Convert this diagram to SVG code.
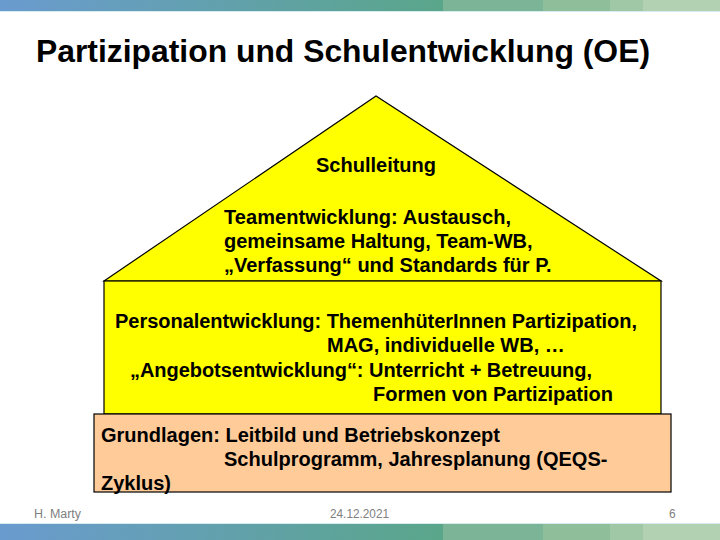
<svg xmlns="http://www.w3.org/2000/svg" width="720" height="540" viewBox="0 0 720 540">
<defs>
<linearGradient id="bar" x1="0" y1="0" x2="443" y2="0" gradientUnits="userSpaceOnUse">
<stop offset="0" stop-color="#6a9bcf"/>
<stop offset="1" stop-color="#5aa68a"/>
</linearGradient>
<style>
.t{font-family:"Liberation Sans",Arial,sans-serif;font-weight:bold;font-size:20px;fill:#000}
.f{font-family:"Liberation Sans",Arial,sans-serif;font-size:12px;fill:#808080}
.shape{stroke:#000;stroke-width:1.2}
</style>
</defs>
<rect width="720" height="540" fill="#fff"/>
<g id="topbar">
<rect x="0" y="0" width="443" height="11" fill="url(#bar)"/>
<rect x="443" y="0" width="100" height="11" fill="#7bb497"/>
<rect x="543" y="0" width="67" height="11" fill="#8fbe9a"/>
<rect x="610" y="0" width="33" height="11" fill="#a1c8a6"/>
<rect x="643" y="0" width="77" height="11" fill="#b2d0b2"/>
<rect x="0" y="11" width="720" height="1" fill="#d4ecf0"/>
</g>
<g id="bottombar">
<rect x="0" y="523" width="720" height="1" fill="#d4ecf0"/>
<rect x="0" y="524" width="443" height="16" fill="url(#bar)"/>
<rect x="443" y="524" width="100" height="16" fill="#7bb497"/>
<rect x="543" y="524" width="67" height="16" fill="#8fbe9a"/>
<rect x="610" y="524" width="33" height="16" fill="#a1c8a6"/>
<rect x="643" y="524" width="77" height="16" fill="#b2d0b2"/>
</g>
<text x="36" y="62" font-family="'Liberation Sans',Arial,sans-serif" font-weight="bold" font-size="31" textLength="614" lengthAdjust="spacingAndGlyphs">Partizipation und Schulentwicklung (OE)</text>
<g id="roof">
<polygon class="shape" points="104,281 376,96 661,281" fill="#ffff00"/>
<text class="t" x="376" y="172" text-anchor="middle">Schulleitung</text>
<text class="t" x="224" y="224" textLength="287">Teamentwicklung: Austausch,</text>
<text class="t" x="224" y="248">gemeinsame Haltung, Team-WB,</text>
<text class="t" x="224" y="272">„Verfassung“ und Standards für P.</text>
</g>
<g id="body">
<rect class="shape" x="104" y="281" width="557" height="133" fill="#ffff00"/>
<text class="t" x="115" y="328" textLength="522" lengthAdjust="spacing">Personalentwicklung: ThemenhüterInnen Partizipation,</text>
<text class="t" x="327" y="352">MAG, individuelle WB, …</text>
<text class="t" x="130" y="377" textLength="462" lengthAdjust="spacing">„Angebotsentwicklung“: Unterricht + Betreuung,</text>
<text class="t" x="373" y="401">Formen von Partizipation</text>
</g>
<g id="foundation">
<rect class="shape" x="94" y="414" width="577" height="78" fill="#ffcc99"/>
<text class="t" x="101" y="442">Grundlagen: Leitbild und Betriebskonzept</text>
<text class="t" x="224" y="466">Schulprogramm, Jahresplanung (QEQS-</text>
<text class="t" x="101" y="490">Zyklus)</text>
</g>
<g id="footer">
<text class="f" x="34" y="518" textLength="47" lengthAdjust="spacingAndGlyphs">H. Marty</text>
<text class="f" x="330" y="518" textLength="59" lengthAdjust="spacingAndGlyphs">24.12.2021</text>
<text class="f" x="669" y="518">6</text>
</g>
<g id="connectors"/>
</svg>
